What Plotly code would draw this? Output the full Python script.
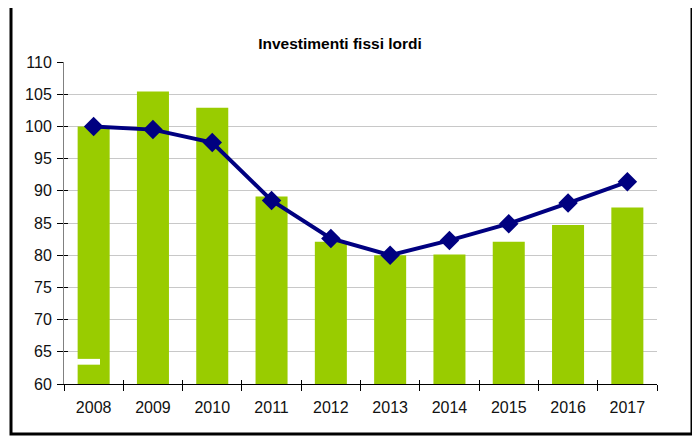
import plotly.graph_objects as go

years = ["2008", "2009", "2010", "2011", "2012", "2013", "2014", "2015", "2016", "2017"]
bar_values = [100.0, 105.4, 102.9, 89.1, 82.1, 80.0, 80.1, 82.1, 84.7, 87.4]
line_values = [100.0, 99.5, 97.5, 88.5, 82.6, 80.0, 82.3, 84.9, 88.1, 91.4]
title_text = "Investimenti fissi lordi"
y_ticks = [60, 65, 70, 75, 80, 85, 90, 95, 100, 105, 110]

font_family = "Liberation Sans, Arial, sans-serif"

# page body has an 8px margin, figure is sized to fill the rest of the 700x437 window
W, H = 692, 429
L, T = 56, 54
PW, PH = 593, 322

fig = go.Figure()
fig.add_trace(go.Bar(
    x=years, y=bar_values, marker=dict(color="#99CC00", line=dict(width=0)),
    showlegend=False,
))
fig.add_trace(go.Scatter(
    x=years, y=line_values, mode="lines+markers",
    line=dict(color="#000080", width=4),
    marker=dict(symbol="diamond", size=15, color="#000080"),
    showlegend=False,
))

n = len(years)
fig.update_layout(
    width=W, height=H,
    margin=dict(l=L, r=W - L - PW, t=T, b=H - T - PH, autoexpand=False),
    paper_bgcolor="white", plot_bgcolor="white",
    bargap=0.46,
    font=dict(family=font_family, size=16, color="#111111"),
    title=dict(text="<b>" + title_text + "</b>", x=332 / W, xanchor="center",
               xref="container", y=1 - 36 / H, yanchor="middle",
               font=dict(family=font_family, size=15.5, color="#000000")),
    xaxis=dict(type="category", range=[-0.5, n - 0.5], showline=True,
               linecolor="#000000", linewidth=1,
               ticks="outside", tickson="boundaries", ticklen=6, tickcolor="#000000",
               ticklabelstandoff=9,
               showgrid=False, tickfont=dict(size=16)),
    yaxis=dict(range=[60, 110], tickvals=y_ticks, showline=True, linecolor="#808080",
               linewidth=1, ticks="outside", ticklen=6, tickcolor="#000000",
               ticklabelstandoff=2,
               showgrid=True, gridcolor="#C8C8C8", gridwidth=1,
               zeroline=False, tickfont=dict(size=16)),
    # companion axes that draw the inner half of the crossing tick marks
    xaxis2=dict(overlaying="x", anchor="y", range=[-0.5, n - 0.5],
                tickvals=[i - 0.5 for i in range(n + 1)], ticks="inside", ticklen=4,
                tickcolor="#000000", showticklabels=False, showgrid=False,
                zeroline=False, showline=False, side="bottom"),
    yaxis2=dict(overlaying="y", anchor="x", range=[60, 110], tickvals=y_ticks,
                ticks="inside", ticklen=4, tickcolor="#000000", showticklabels=False,
                showgrid=False, zeroline=False, showline=False, side="left"),
    shapes=[
        dict(type="rect", xref="x", yref="y", x0=-0.28, x1=0.107, y0=63.0, y1=63.9,
             fillcolor="white", line=dict(width=0), layer="above"),
        dict(type="rect", xref="paper", yref="paper",
             x0=(11 - 64) / PW, x1=(692 - 64) / PW, y0=(384 - 434) / PH, y1=(384 - 4) / PH,
             line=dict(color="#000000", width=3), fillcolor="rgba(0,0,0,0)"),
    ],
)
# invisible trace to activate the companion axes
fig.add_trace(go.Scatter(x=[0], y=[60], xaxis="x2", yaxis="y2", mode="markers",
                         marker=dict(opacity=0), showlegend=False, hoverinfo="skip"))

fig.write_html("out.html")
